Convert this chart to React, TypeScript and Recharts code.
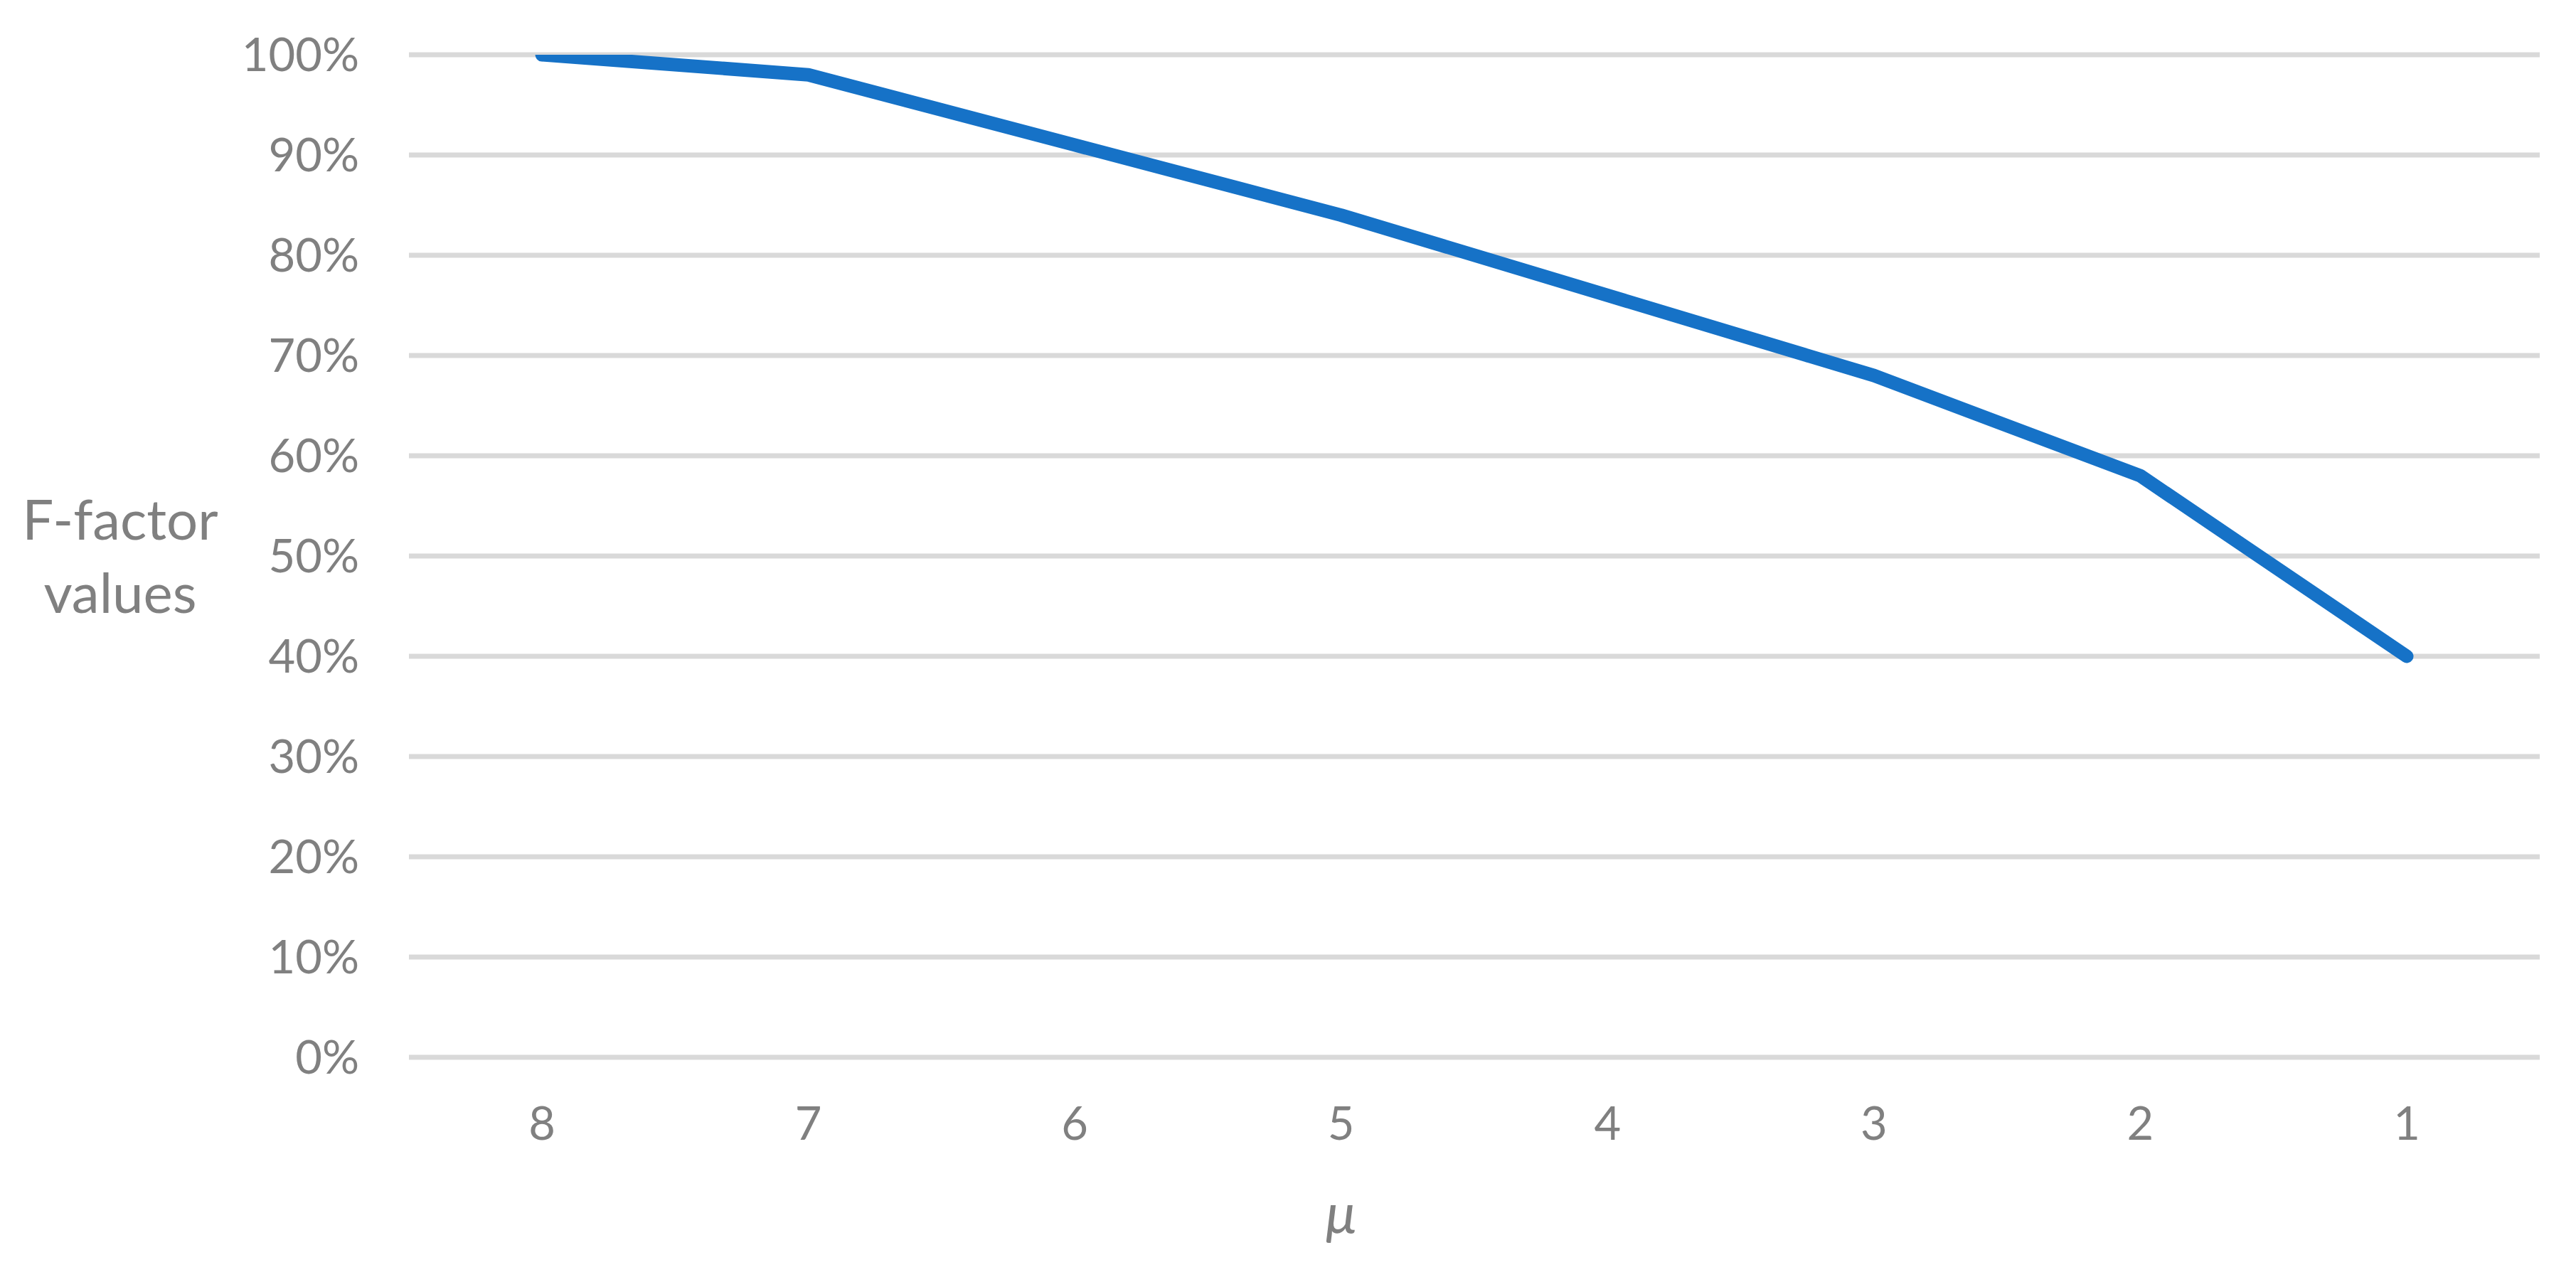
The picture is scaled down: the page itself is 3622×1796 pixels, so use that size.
import { CartesianGrid, Line, LineChart, XAxis, YAxis } from "recharts";

const mu = ["8", "7", "6", "5", "4", "3", "2", "1"];
const fFactor = [100, 98, 91, 84, 76, 68, 58, 40];
const yTicks = [0, 10, 20, 30, 40, 50, 60, 70, 80, 90, 100];

const data = mu.map((m, i) => ({ mu: m, f: fFactor[i] }));

const FONT = "Lato, 'Open Sans', sans-serif";
const GREY = "#808080";

function YTitle(props: any) {
  const vb = props.viewBox;
  const cy = vb.y + vb.height / 2;
  return (
    <text x={169} y={cy - 23} textAnchor="middle" fill={GREY} fontFamily={FONT} fontSize={78}>
      <tspan x={169} y={cy - 23}>F-factor</tspan>
      <tspan x={169} y={cy + 80}>values</tspan>
    </text>
  );
}

function XTitle(props: any) {
  const vb = props.viewBox;
  // sits under the "5" tick in the original
  const x = vb.x + (vb.width * 7) / 16;
  return (
    <text x={x} y={1735} textAnchor="middle" fill={GREY} fontFamily={FONT} fontSize={78} fontStyle="italic">
      μ
    </text>
  );
}

export default function App() {
  return (
    <div style={{ position: "absolute", left: 0, top: 0, width: 3622, height: 1796, background: "#fff" }}>
      <LineChart width={3622} height={1796} data={data} margin={{ top: 77, right: 51, left: 0, bottom: 0 }}>
        <CartesianGrid horizontal vertical={false} stroke="#d9d9d9" strokeWidth={7} />
        <XAxis
          dataKey="mu"
          height={309}
          padding={{ left: 187, right: 187 }}
          axisLine={false}
          tickLine={false}
          tickSize={0}
          tickMargin={70}
          tick={{ fill: GREY, fontSize: 65, fontFamily: FONT }}
          label={{ content: XTitle }}
        />
        <YAxis
          width={575}
          domain={[0, 100]}
          ticks={yTicks}
          allowDataOverflow
          axisLine={false}
          tickLine={false}
          tickSize={0}
          tickMargin={70}
          tickFormatter={(v) => `${v}%`}
          tick={{ fill: GREY, fontSize: 65, fontFamily: FONT }}
          label={{ content: YTitle }}
        />
        <Line
          type="linear"
          dataKey="f"
          stroke="#1672c7"
          strokeWidth={19}
          strokeLinecap="round"
          strokeLinejoin="round"
          dot={false}
          activeDot={false}
          isAnimationActive={false}
        />
      </LineChart>
    </div>
  );
}
